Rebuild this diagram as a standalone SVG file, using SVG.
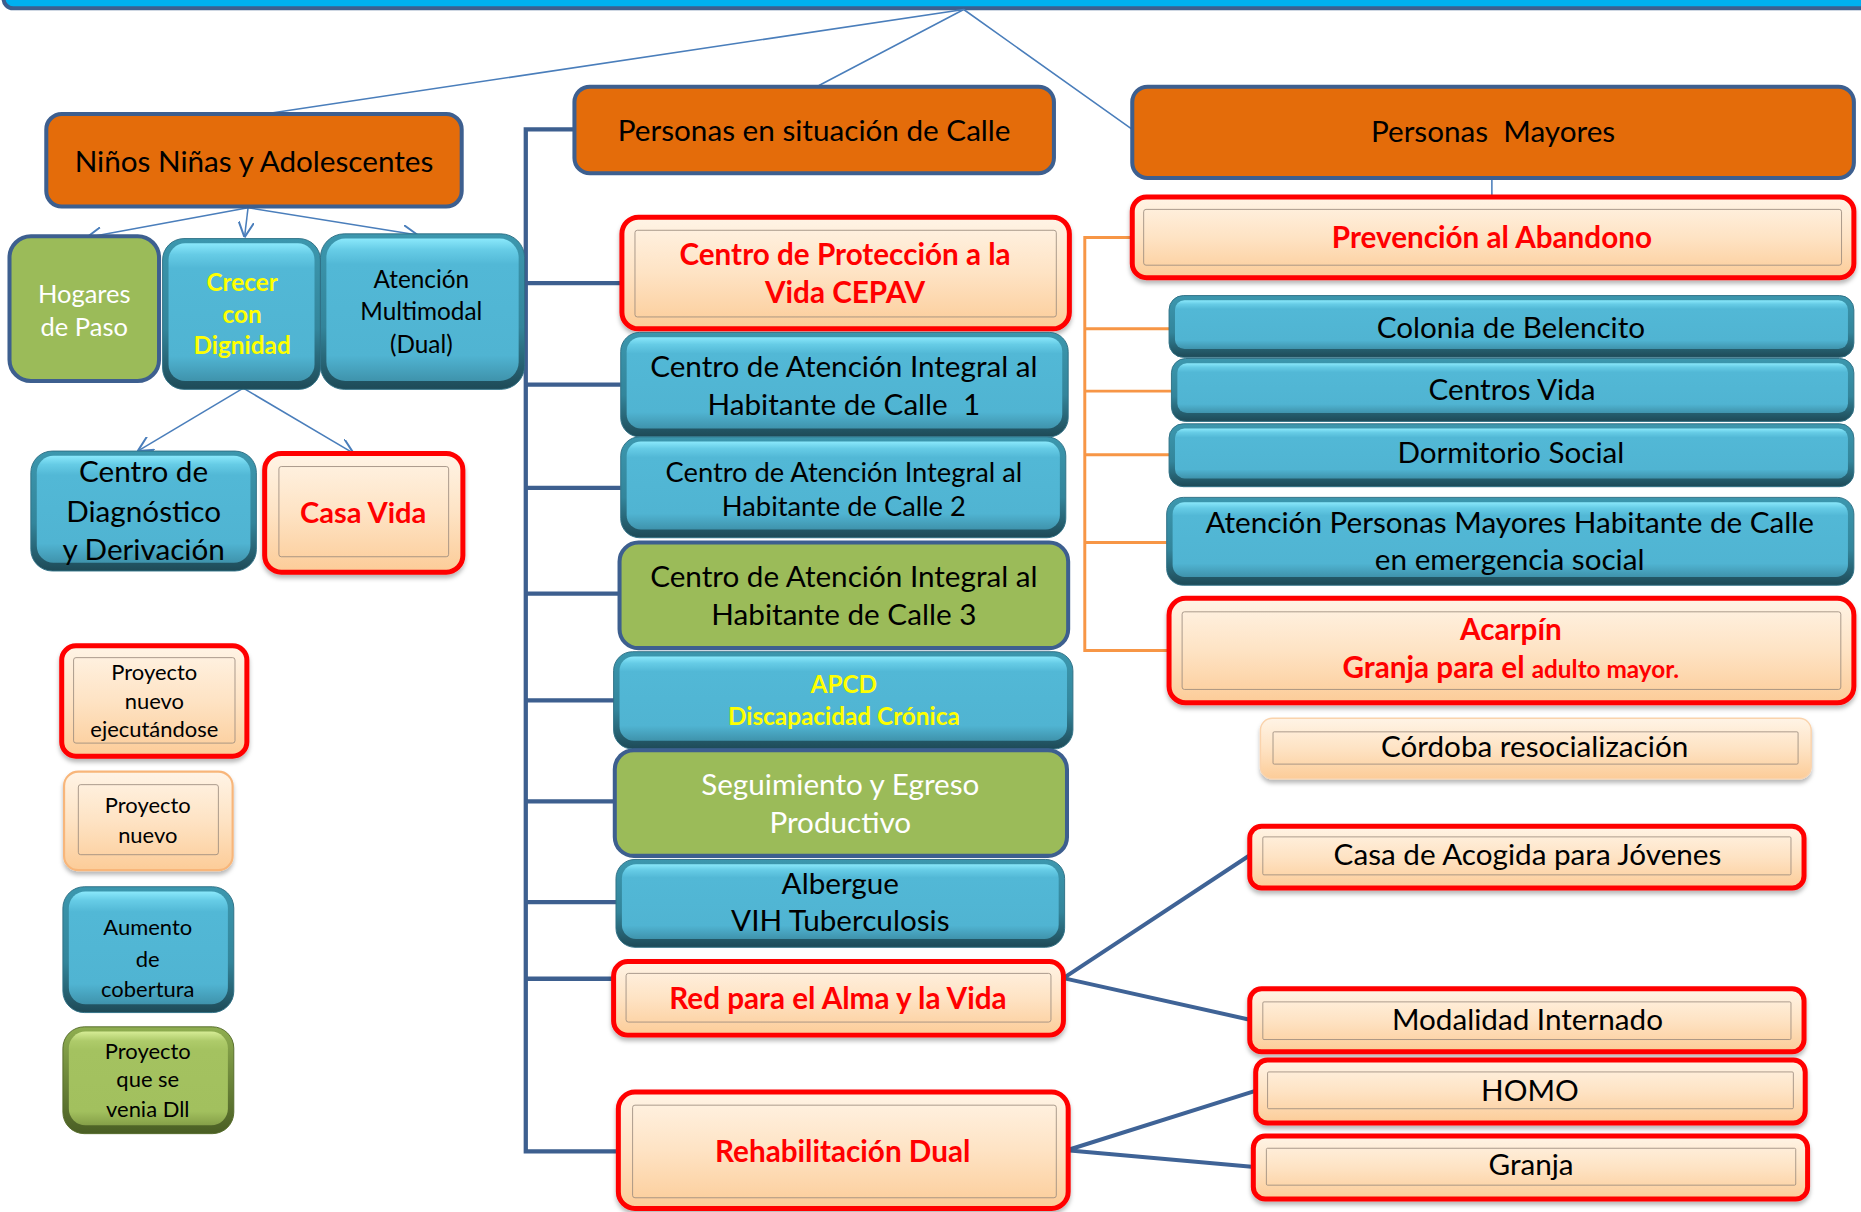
<svg xmlns="http://www.w3.org/2000/svg" width="1861" height="1212" viewBox="0 0 1861 1212">
<defs>
<style>
.t{font-family:Lato,"Open Sans",sans-serif;text-anchor:middle;font-size:25px;fill:#000}
.b{font-weight:bold}
.r{fill:#FF0000}
.y{fill:#FFFF00}
.w{fill:#FFFFFF}
.s18{font-size:18.5px}
.s20{font-size:20.5px}
.s21{font-size:21.5px}
.s23{font-size:23px}
.s24{font-size:24.5px}
.hdr{fill:#E46C0A;stroke:#3D5F8F;stroke-width:3.4}
.grn{fill:#9BBB59;stroke:#3D5F8F;stroke-width:3.4}
.red{fill:url(#peach);stroke:#FF0000;stroke-width:4.2;filter:url(#sh)}
.lite{fill:url(#peach);stroke:#F8B67A;stroke-width:1.8;filter:url(#sh)}
.lite2{fill:url(#peach);stroke:#FAD3AC;stroke-width:1.2;filter:url(#sh)}
.inr{fill:none;stroke:#9A8A7C;stroke-width:0.7}
.cyo{fill:url(#cyO);stroke:#2E7085;stroke-width:0.8}
.cyi{fill:url(#cyI)}
.gro{fill:url(#grO);stroke:#556B2A;stroke-width:0.8}
.gri{fill:url(#grI)}
.thin{fill:none;stroke:#4A7EBB;stroke-width:1.3}
.trunk{fill:none;stroke:#3D5F8F;stroke-width:3.6}
.org{fill:none;stroke:#F79646;stroke-width:2.5}
.thick{fill:none;stroke:#3F6396;stroke-width:3.4}
</style>
<linearGradient id="peach" x1="0" y1="0" x2="0" y2="1">
<stop offset="0" stop-color="#FFF4E6"/><stop offset="0.5" stop-color="#FEE3C4"/><stop offset="1" stop-color="#FCCC98"/>
</linearGradient>
<linearGradient id="cyO" x1="0" y1="0" x2="0" y2="1">
<stop offset="0" stop-color="#3C97AE"/><stop offset="0.6" stop-color="#33859B"/><stop offset="1" stop-color="#1E4A57"/>
</linearGradient>
<linearGradient id="cyI" x1="0" y1="0" x2="0" y2="1">
<stop offset="0" stop-color="#8AE8FB"/><stop offset="0.08" stop-color="#66CCE6"/><stop offset="0.18" stop-color="#52B8D6"/><stop offset="0.82" stop-color="#50B4D2"/><stop offset="1" stop-color="#3F93AC"/>
</linearGradient>
<linearGradient id="grO" x1="0" y1="0" x2="0" y2="1">
<stop offset="0" stop-color="#8FAE50"/><stop offset="1" stop-color="#4A5E24"/>
</linearGradient>
<linearGradient id="grI" x1="0" y1="0" x2="0" y2="1">
<stop offset="0" stop-color="#D5EC95"/><stop offset="0.1" stop-color="#AECB6A"/><stop offset="0.2" stop-color="#A4C260"/><stop offset="0.85" stop-color="#A2C05E"/><stop offset="1" stop-color="#859F48"/>
</linearGradient>
<filter id="sh" x="-5%" y="-15%" width="110%" height="140%">
<feDropShadow dx="0" dy="3" stdDeviation="2" flood-color="#000" flood-opacity="0.28"/>
</filter>
<marker id="arr" viewBox="0 0 10 10" refX="10" refY="5" markerUnits="userSpaceOnUse" markerWidth="13" markerHeight="13" orient="auto">
<path d="M0,0 L10,5 L0,10" fill="none" stroke="#4A7EBB" stroke-width="1.3"/>
</marker>
</defs>
<rect width="1861" height="1212" fill="#FFFFFF"/>
<g transform="scale(1.18686,1.18707)">
<g id="topbar"><rect x="3" y="-40" width="1600" height="47" rx="8" fill="#00B0F0" stroke="#3D5F8F" stroke-width="3.4"/></g>

<g id="connectors">
<path class="thin" d="M812,8 L223,96 M812,8 L690,72 M812,8 L954,109 M1257,150 L1257,166"/>
<path class="thin" d="M209,175 L73,200" marker-end="url(#arr)"/>
<path class="thin" d="M209,175 L206,200" marker-end="url(#arr)"/>
<path class="thin" d="M209,175 L352,198" marker-end="url(#arr)"/>
<path class="thin" d="M205,327 L116,380" marker-end="url(#arr)"/>
<path class="thin" d="M205,327 L298,382" marker-end="url(#arr)"/>
<path class="trunk" d="M484,109 H443 V971 M443,238.5 H525 M443,324 H523 M443,411 H523 M443,500 H522 M443,590 H518 M443,675 H518 M443,760 H519 M443,824.5 H517 M441.2,970 H522"/>
<path class="org" d="M954,200 H914 V548 H986 M914,277 H985 M914,329.5 H987 M914,383 H985 M914,457 H983"/>
<path class="thick" d="M896,824 L1053,720.5 M896,824 L1053,859 M899,969 L1059,918.5 M899,969 L1057,983"/>
</g>

<g id="n-ninos"><rect class="hdr" x="39" y="96" width="350" height="78" rx="13"/><text class="t" x="214" y="145">Niños Niñas y Adolescentes</text></g>
<g id="n-calle"><rect class="hdr" x="484" y="73" width="404" height="73" rx="13"/><text class="t" x="686" y="119">Personas en situación de Calle</text></g>
<g id="n-mayores"><rect class="hdr" x="954" y="73" width="608" height="77" rx="13"/><text class="t" x="1258" y="120">Personas&#160; Mayores</text></g>

<g id="n-hogares"><rect class="grn" x="8" y="199" width="126" height="122" rx="18"/><text class="t w s21" x="71" y="255">Hogares</text><text class="t w s21" x="71" y="283">de Paso</text></g>
<g id="n-crecer"><rect class="cyo" x="137" y="201" width="133" height="127" rx="18"/><rect class="cyi" x="142" y="205" width="123" height="116" rx="14"/><text class="t b y s20" x="204" y="245">Crecer</text><text class="t b y s20" x="204" y="272">con</text><text class="t b y s20" x="204" y="298">Dignidad</text></g>
<g id="n-multimodal"><rect class="cyo" x="270" y="197" width="172" height="131" rx="20"/><rect class="cyi" x="275" y="201" width="162" height="120" rx="16"/><text class="t s20" x="355" y="243">Atención</text><text class="t s20" x="355" y="270">Multimodal</text><text class="t s20" x="355" y="297">(Dual)</text></g>
<g id="n-diagnostico"><rect class="cyo" x="26" y="380" width="190" height="101" rx="18"/><rect class="cyi" x="31" y="384" width="180" height="90" rx="14"/><text class="t" x="121" y="406">Centro de</text><text class="t" x="121" y="439.5">Diagnóstico</text><text class="t" x="121" y="472">y Derivación</text></g>
<g id="n-casavida"><rect class="red" x="223" y="382" width="167" height="100" rx="14"/><rect class="inr" x="235" y="393" width="143" height="76" rx="2"/><text class="t b r s24" x="306" y="441">Casa Vida</text></g>

<g id="legend-nuevo-ejecutandose"><rect class="red" x="52" y="544" width="156" height="93" rx="12"/><rect class="inr" x="62" y="554" width="136" height="72" rx="2"/><text class="t s18" x="130" y="573">Proyecto</text><text class="t s18" x="130" y="597.5">nuevo</text><text class="t s18" x="130" y="621">ejecutándose</text></g>
<g id="legend-nuevo"><rect class="lite" x="54" y="650" width="142" height="83" rx="12"/><rect class="inr" x="66" y="661" width="118" height="59" rx="2"/><text class="t s18" x="124.5" y="685">Proyecto</text><text class="t s18" x="124.5" y="710">nuevo</text></g>
<g id="legend-cobertura"><rect class="cyo" x="53" y="747" width="144" height="106" rx="18"/><rect class="cyi" x="58" y="751" width="134" height="95" rx="14"/><text class="t s18" x="124.5" y="788">Aumento</text><text class="t s18" x="124.5" y="815">de</text><text class="t s18" x="124.5" y="840">cobertura</text></g>
<g id="legend-dll"><rect class="gro" x="53" y="865" width="144" height="90" rx="18"/><rect class="gri" x="58" y="869" width="134" height="79" rx="14"/><text class="t s18" x="124.5" y="892.5">Proyecto</text><text class="t s18" x="124.5" y="916">que se</text><text class="t s18" x="124.5" y="941">venia Dll</text></g>

<g id="n-cepav"><rect class="red" x="524" y="183" width="377" height="94" rx="14"/><rect class="inr" x="535" y="194" width="355" height="73" rx="2"/><text class="t b r" x="712" y="223.3">Centro de Protección a la</text><text class="t b r" x="712" y="255">Vida CEPAV</text></g>
<g id="n-caihc1"><rect class="cyo" x="523" y="280" width="377" height="88" rx="16"/><rect class="cyi" x="528" y="284" width="367" height="77" rx="12"/><text class="t" x="711" y="317.4">Centro de Atención Integral al</text><text class="t" x="711" y="349.7">Habitante de Calle&#160; 1</text></g>
<g id="n-caihc2"><rect class="cyo" x="523" y="368" width="375" height="85" rx="16"/><rect class="cyi" x="528" y="372" width="365" height="74" rx="12"/><text class="t s23" x="711" y="405.8">Centro de Atención Integral al</text><text class="t s23" x="711" y="434.8">Habitante de Calle 2</text></g>
<g id="n-caihc3"><rect class="grn" x="522" y="457" width="378" height="89" rx="16"/><text class="t" x="711" y="494.3">Centro de Atención Integral al</text><text class="t" x="711" y="526.6">Habitante de Calle 3</text></g>
<g id="n-apcd"><rect class="cyo" x="517" y="549" width="387" height="82" rx="16"/><rect class="cyi" x="522" y="553" width="377" height="71" rx="12"/><text class="t b y s20" x="711" y="584">APCD</text><text class="t b y s20" x="711" y="610.8">Discapacidad Crónica</text></g>
<g id="n-seguimiento"><rect class="grn" x="518" y="632" width="381" height="89" rx="16"/><text class="t w" x="708" y="669.8">Seguimiento y Egreso</text><text class="t w" x="708" y="701.6">Productivo</text></g>
<g id="n-albergue"><rect class="cyo" x="519" y="724" width="378" height="74" rx="16"/><rect class="cyi" x="524" y="728" width="368" height="63" rx="12"/><text class="t" x="708" y="752.7">Albergue</text><text class="t" x="708" y="784.2">VIH Tuberculosis</text></g>
<g id="n-red"><rect class="red" x="517" y="810" width="379" height="62" rx="12"/><rect class="inr" x="527.5" y="820" width="358" height="41" rx="2"/><text class="t b r" x="706" y="849.6">Red para el Alma y la Vida</text></g>
<g id="n-rehab"><rect class="red" x="521" y="920" width="379" height="98" rx="14"/><rect class="inr" x="533" y="931" width="357" height="78" rx="2"/><text class="t b r" x="710" y="979">Rehabilitación Dual</text></g>

<g id="n-prevencion"><rect class="red" x="954" y="166" width="608" height="68" rx="12"/><rect class="inr" x="963.6" y="176.4" width="588" height="47" rx="2"/><text class="t b r" x="1257" y="208.7">Prevención al Abandono</text></g>
<g id="n-colonia"><rect class="cyo" x="985" y="249" width="577" height="52" rx="12"/><rect class="cyi" x="990" y="253" width="567" height="41" rx="8"/><text class="t" x="1273" y="285">Colonia de Belencito</text></g>
<g id="n-centrosvida"><rect class="cyo" x="987" y="302" width="575" height="53" rx="12"/><rect class="cyi" x="992" y="306" width="565" height="42" rx="8"/><text class="t" x="1274" y="337">Centros Vida</text></g>
<g id="n-dormitorio"><rect class="cyo" x="985" y="357" width="577" height="53" rx="12"/><rect class="cyi" x="990" y="361" width="567" height="42" rx="8"/><text class="t" x="1273" y="390.4">Dormitorio Social</text></g>
<g id="n-apm"><rect class="cyo" x="983" y="419" width="579" height="74" rx="14"/><rect class="cyi" x="988" y="423" width="569" height="63" rx="10"/><text class="t" x="1272" y="448.8">Atención Personas Mayores Habitante de Calle</text><text class="t" x="1272" y="480.2">en emergencia social</text></g>
<g id="n-acarpin"><rect class="red" x="985" y="504" width="577" height="88" rx="14"/><rect class="inr" x="996" y="515.4" width="555" height="65.4" rx="2"/><text class="t b r" x="1273" y="539.2">Acarpín</text><text class="t b r" x="1273" y="571.5">Granja para el <tspan class="s20">adulto mayor.</tspan></text></g>
<g id="n-cordoba"><rect class="lite2" x="1062" y="605" width="464" height="51" rx="10"/><rect class="inr" x="1072.6" y="616.5" width="442.4" height="27.2" rx="1"/><text class="t" x="1293" y="637.5">Córdoba resocialización</text></g>
<g id="n-acogida"><rect class="red" x="1053" y="696" width="467" height="52" rx="10"/><rect class="inr" x="1064" y="705" width="445" height="32" rx="1"/><text class="t" x="1287" y="728.8">Casa de Acogida para Jóvenes</text></g>
<g id="n-internado"><rect class="red" x="1053" y="833" width="467" height="53" rx="10"/><rect class="inr" x="1064" y="844" width="445" height="31.7" rx="1"/><text class="t" x="1287" y="867.8">Modalidad Internado</text></g>
<g id="n-homo"><rect class="red" x="1058" y="893" width="463" height="53" rx="10"/><rect class="inr" x="1068" y="903" width="443" height="31" rx="1"/><text class="t" x="1289" y="927.3">HOMO</text></g>
<g id="n-granja"><rect class="red" x="1056" y="957" width="467" height="53" rx="10"/><rect class="inr" x="1067" y="967.3" width="446" height="31.1" rx="1"/><text class="t" x="1290" y="990">Granja</text></g>
</g>
</svg>
